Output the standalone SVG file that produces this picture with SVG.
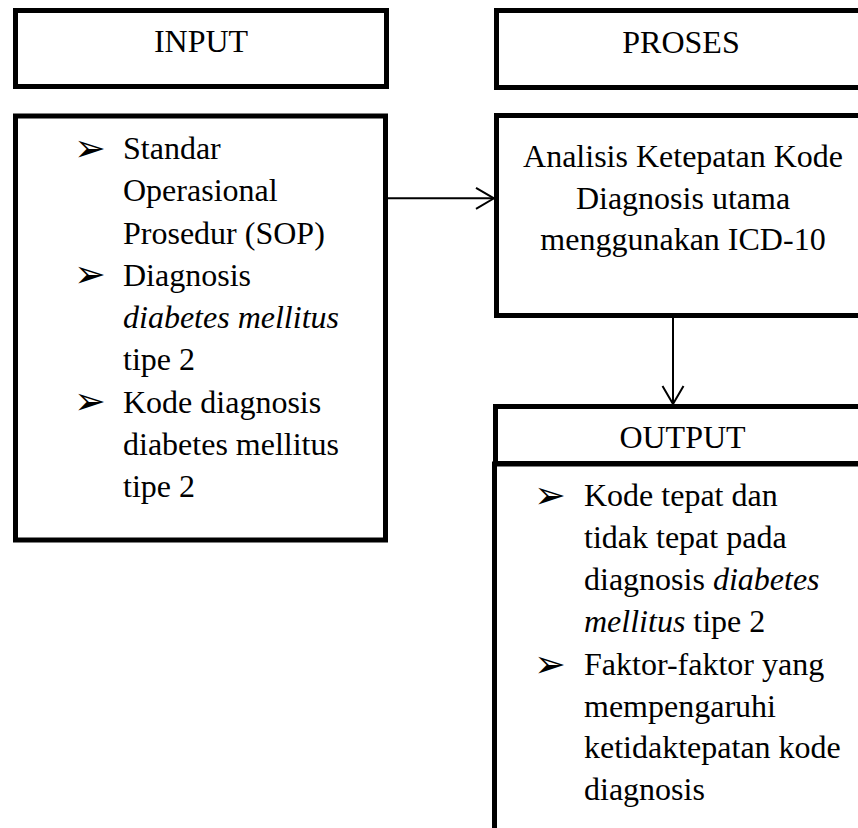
<svg xmlns="http://www.w3.org/2000/svg" width="858" height="828" viewBox="0 0 858 828">
<style>
.box{fill:#fff;stroke:#000;stroke-width:5}
.t{font-family:'Times New Roman','Liberation Serif',Tinos,serif;font-size:32px;fill:#000}
.c{text-anchor:middle}
.i{font-style:italic}
.b{font-family:'DejaVu Sans',sans-serif;font-size:38px;fill:#000}
.con{fill:none;stroke:#000;stroke-width:2}
</style>
<defs>
<marker id="arr" viewBox="0 0 20 24" refX="19" refY="12" markerWidth="20" markerHeight="24" markerUnits="userSpaceOnUse" orient="auto">
<path d="M1,1.5 L19,12 L1,22.5" fill="none" stroke="#000" stroke-width="2"/>
</marker>
</defs>
<rect width="858" height="828" fill="#fff"/>
<g id="input-header">
<rect class="box" x="15.5" y="10.5" width="371" height="76"/>
<text class="t c" x="201" y="52">INPUT</text>
</g>
<g id="input-body">
<rect class="box" x="15.5" y="116" width="370" height="424"/>
<text class="b" x="74" y="160.5">➢</text>
<text class="b" x="74" y="287.3">➢</text>
<text class="b" x="74" y="414">➢</text>
<text class="t" x="123" y="159">Standar</text>
<text class="t" x="123" y="201.3">Operasional</text>
<text class="t" x="123" y="243.5">Prosedur (SOP)</text>
<text class="t" x="123" y="285.8">Diagnosis</text>
<text class="t i" x="123" y="328">diabetes mellitus</text>
<text class="t" x="123" y="370.3">tipe 2</text>
<text class="t" x="123" y="412.5">Kode diagnosis</text>
<text class="t" x="123" y="454.8">diabetes mellitus</text>
<text class="t" x="123" y="497">tipe 2</text>
</g>
<g id="proses-header">
<rect class="box" x="496.5" y="10.5" width="400" height="77"/>
<text class="t c" x="681" y="53">PROSES</text>
</g>
<g id="proses-body">
<rect class="box" x="496.5" y="115.5" width="400" height="200"/>
<text class="t c" x="683" y="167">Analisis Ketepatan Kode</text>
<text class="t c" x="683" y="209">Diagnosis utama</text>
<text class="t c" x="683" y="250">menggunakan ICD-10</text>
</g>
<g id="output-body">
<rect class="box" x="494.5" y="464" width="400" height="420"/>
<text class="b" x="534" y="507.5">➢</text>
<text class="b" x="534" y="676.5">➢</text>
<text class="t" x="584" y="506">Kode tepat dan</text>
<text class="t" x="584" y="548">tidak tepat pada</text>
<text class="t" x="584" y="590">diagnosis <tspan class="i">diabetes</tspan></text>
<text class="t" x="584" y="632"><tspan class="i">mellitus</tspan> tipe 2</text>
<text class="t" x="584" y="675">Faktor-faktor yang</text>
<text class="t" x="584" y="717">mempengaruhi</text>
<text class="t" x="584" y="758">ketidaktepatan kode</text>
<text class="t" x="584" y="800">diagnosis</text>
</g>
<g id="output-header">
<rect class="box" x="495.5" y="406.5" width="400" height="57"/>
<text class="t c" x="682.5" y="448">OUTPUT</text>
</g>
<g id="connectors">
<line class="con" x1="388" y1="198.3" x2="494" y2="198.3" marker-end="url(#arr)"/>
<line class="con" x1="673" y1="318" x2="673" y2="404" marker-end="url(#arr)"/>
</g>
</svg>
